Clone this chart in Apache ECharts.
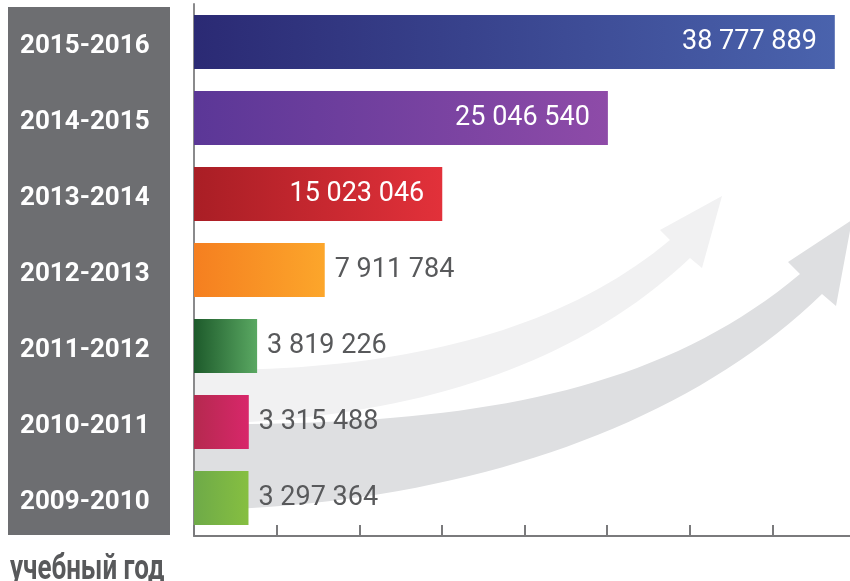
<!DOCTYPE html>
<html>
<head>
<meta charset="utf-8">
<script src="https://cdn.jsdelivr.net/npm/echarts@6/dist/echarts.min.js"></script>
<style>
html,body{margin:0;padding:0;background:#fff;}
#chart{width:850px;height:581px;}
</style>
</head>
<body>
<div id="chart"></div>
<script>
// Data (chronological order, bottom to top)
const years = ['2009-2010','2010-2011','2011-2012','2012-2013','2013-2014','2014-2015','2015-2016'];
const students = [3297364, 3315488, 3819226, 7911784, 15023046, 25046540, 38777889];
const colorStart = ['#6eaa48','#b5294f','#1d5a2b','#f57f20','#a91e25','#5b3797','#2b2a74'];
const colorEnd   = ['#86bf41','#d8276a','#5aa862','#fca62b','#e2313a','#8e4ba8','#4a63ad'];
const axisTitle = 'учебный год';

const fmt = v => String(v).replace(/\B(?=(\d{3})+(?!\d))/g, ' ');
const FONT = 'Roboto, "Open Sans", sans-serif';

// decorative arrow outline (cubic bezier sampling)
function bez(p0, p1, p2, p3, n) {
  const out = [];
  for (let i = 0; i <= n; i++) {
    const t = i / n, u = 1 - t;
    out.push([
      u*u*u*p0[0] + 3*u*u*t*p1[0] + 3*u*t*t*p2[0] + t*t*t*p3[0],
      u*u*u*p0[1] + 3*u*u*t*p1[1] + 3*u*t*t*p2[1] + t*t*t*p3[1]
    ]);
  }
  return out;
}
function arrow(top, head, bottom) {
  const a = bez(top[0], top[1], top[2], top[3], 40);
  const b = bez(bottom[0], bottom[1], bottom[2], bottom[3], 40);
  return a.concat(head).concat(b);
}
const arrow1 = arrow(
  [[195,370],[400,372],[560,332],[670,240]],
  [[660,230],[722,196],[702,268]],
  [[690,258],[580,362],[420,420],[195,424]]
);
const arrow2 = arrow(
  [[195,424],[450,426],[650,400],[800,274]],
  [[788,262],[852,220],[836,306]],
  [[822,294],[680,432],[450,506],[195,510]]
);

const barData = students.map((v, i) => {
  const inside = v > 10000000;
  return {
    value: v,
    itemStyle: {
      color: {type: 'linear', x: 0, y: 0, x2: 1, y2: 0, colorStops: [
        {offset: 0, color: colorStart[i]},
        {offset: 1, color: colorEnd[i]}
      ]}
    },
    label: inside
      ? {position: 'insideRight', distance: 18, color: '#ffffff'}
      : {position: 'right', distance: 10, color: '#58595b'}
  };
});

const chart = echarts.init(document.getElementById('chart'), null, {renderer: 'canvas'});
chart.setOption({
  animation: false,
  backgroundColor: '#ffffff',
  grid: {left: 194, top: 4, height: 532, width: 661, outerBoundsMode: 'none', containLabel: false},
  xAxis: {
    type: 'value', min: 0, max: 40000000, interval: 5000000,
    axisLine: {show: true, lineStyle: {color: '#7a7a7c', width: 2}},
    axisTick: {show: true, inside: true, length: 11, lineStyle: {color: '#7a7a7c', width: 2}},
    axisLabel: {show: false},
    splitLine: {show: false}
  },
  yAxis: {
    type: 'category', data: years,
    axisLine: {show: true, lineStyle: {color: '#8a8a8c', width: 2}},
    axisTick: {show: false},
    axisLabel: {
      align: 'left', margin: 174,
      formatter: v => '{t|' + v + '}',
      rich: {
        t: {color: '#ffffff', fontFamily: FONT, fontWeight: 'bold', fontSize: 26,
            padding: [8, 0, 0, 0]}
      }
    }
  },
  graphic: [
    {type: 'rect', z: -10, silent: true, shape: {x: 8, y: 7, width: 162, height: 528}, style: {fill: '#6d6e71'}},
    {type: 'polygon', z: -9, silent: true, shape: {points: arrow1}, style: {fill: '#f1f1f2'}},
    {type: 'polygon', z: -8, silent: true, shape: {points: arrow2}, style: {fill: '#dedfe1'}},
    {type: 'text', z: 10, silent: true, x: 10, y: 588, scaleX: 1, scaleY: 1.35,
     style: {x: 0, y: 0, text: axisTitle, fill: '#58595b', verticalAlign: 'bottom',
             font: 'bold 26px Roboto, "Open Sans", sans-serif'}}
  ],
  series: [{
    type: 'bar',
    data: barData,
    barWidth: 54,
    label: {
      show: true,
      fontFamily: FONT, fontSize: 27, fontWeight: 'normal',
      formatter: p => fmt(p.value)
    }
  }]
});
</script>
</body>
</html>
